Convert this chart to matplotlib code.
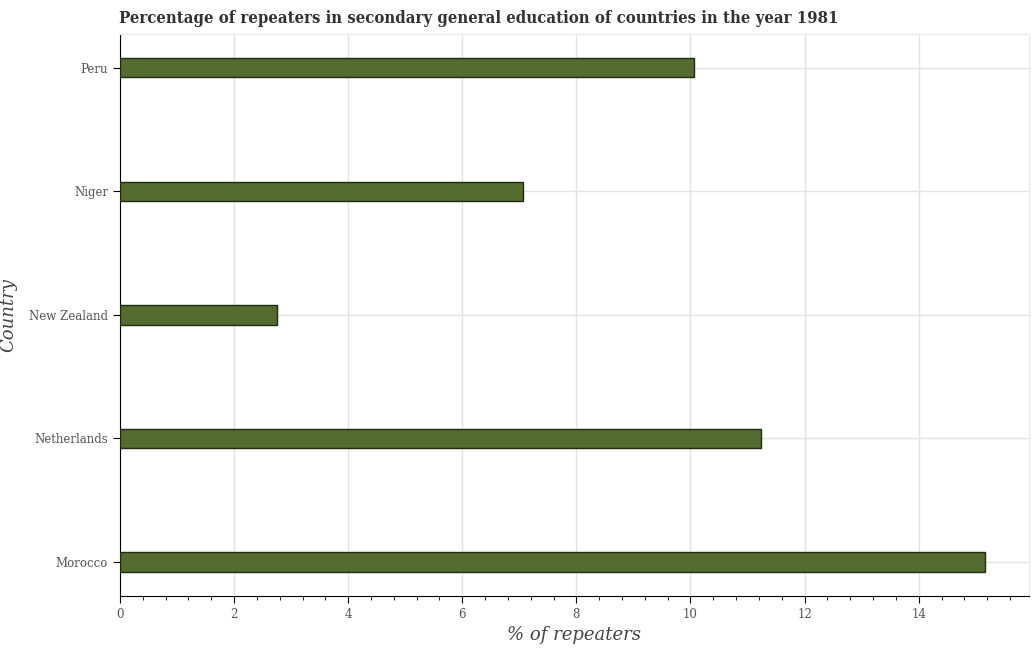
import matplotlib.pyplot as plt
from matplotlib.ticker import MultipleLocator

#chart data
countries = ['Morocco', 'Netherlands', 'New Zealand', 'Niger', 'Peru']
repeaters = [15.17, 11.23, 2.75, 7.07, 10.06]

plt.rcParams['font.family'] = ['DejaVu Serif']

fig = plt.figure(figsize=(10.34, 6.5), dpi=100)
ax = fig.add_axes([0.116, 0.083, 0.879, 0.865])

ax.barh(countries, repeaters, height=0.155, color='#556b2f',
        edgecolor='#1f2a12', linewidth=1, zorder=3)

ax.set_xlim(0, 15.93)
ax.set_ylim(-0.275, 4.275)
ax.xaxis.set_major_locator(MultipleLocator(2))
ax.xaxis.set_minor_locator(MultipleLocator(0.4))
ax.grid(True, color='#e3e3e3', linewidth=1, zorder=0)

for side in ['top', 'right']:
    ax.spines[side].set_color('#e8e8e8')
for side in ['left', 'bottom']:
    ax.spines[side].set_color('black')

ax.tick_params(axis='both', labelsize=8.5, labelcolor='#555555', length=5)
ax.tick_params(axis='x', which='minor', length=3)

ax.set_xlabel('% of repeaters', fontsize=13, style='italic', color='#444444')
ax.set_ylabel('Country', fontsize=13, style='italic', color='#444444')
ax.yaxis.set_label_coords(-0.113, 0.5)  #keep label inside the figure

fig.text(0.115, 0.971, 'Percentage of repeaters in secondary general education of countries in the year 1981',
         fontsize=12, fontweight='bold', color='#333333', va='center', ha='left',
         fontstretch='condensed')

plt.savefig('out.png')
